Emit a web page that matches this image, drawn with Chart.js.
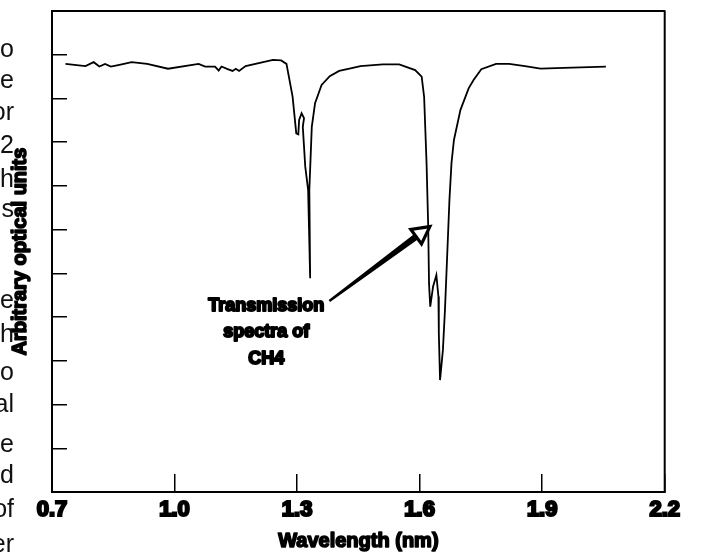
<!DOCTYPE html>
<html>
<head>
<meta charset="utf-8">
<script src="https://cdn.jsdelivr.net/npm/chart.js@4.4.1/dist/chart.umd.min.js"></script>
<style>
  html, body { margin: 0; padding: 0; background: #fff; }
  #wrap { width: 703px; height: 558px; }
</style>
</head>
<body>
<div id="wrap"><canvas id="spectrumChart" width="703" height="558"></canvas></div>
<script>
// Spektrum: panjang gelombang (x) dan sinyal (y, satuan bebas)
const wavelength = [
  0.733, 0.782, 0.802, 0.816, 0.830, 0.844, 0.865, 0.895, 0.933, 0.984,
  1.059, 1.075, 1.099, 1.108, 1.115, 1.130, 1.142, 1.150, 1.158, 1.174,
  1.241, 1.261, 1.274, 1.289, 1.298, 1.303, 1.305, 1.311, 1.317, 1.314,
  1.320, 1.327, 1.332, 1.330, 1.336, 1.344, 1.360, 1.380, 1.403, 1.431,
  1.455, 1.510, 1.550, 1.589, 1.605, 1.611, 1.617, 1.621, 1.623, 1.626,
  1.633, 1.641, 1.646, 1.647, 1.650, 1.657, 1.662, 1.668, 1.673, 1.678,
  1.684, 1.700, 1.720, 1.732, 1.751, 1.787, 1.819, 1.858, 1.896, 1.953,
  2.056
];
const signal = [
  9.79, 9.74, 9.83, 9.73, 9.79, 9.73, 9.77, 9.83, 9.79, 9.68,
  9.79, 9.73, 9.73, 9.64, 9.73, 9.67, 9.63, 9.68, 9.63, 9.74,
  9.88, 9.87, 9.79, 9.04, 8.20, 8.18, 8.51, 8.66, 8.55, 8.35,
  7.44, 6.91, 4.89, 6.91, 8.35, 8.89, 9.31, 9.51, 9.63, 9.69,
  9.74, 9.78, 9.78, 9.65, 9.50, 9.04, 7.52, 6.07, 4.77, 4.24,
  4.70, 4.96, 4.47, 3.63, 2.56, 3.25, 4.16, 5.53, 6.68, 7.52,
  8.05, 8.74, 9.23, 9.42, 9.67, 9.79, 9.79, 9.74, 9.68, 9.70,
  9.73
];

const xTicks = [0.7, 1.0, 1.3, 1.6, 1.9, 2.2];
const xTickLabels = ['0.7', '1.0', '1.3', '1.6', '1.9', '2.2'];
const xTitle = 'Wavelength (nm)';
const yTitle = 'Arbitrary optical units';

// catatan dan panah (dalam satuan data)
const noteLines = ['Transmission', 'spectra of', 'CH4'];
const noteAt = [1.2245, 4.14];
const arrowFrom = [1.379, 4.37];
const arrowTo = [1.625, 6.07];

// potongan teks dokumen di tepi kiri
const sideText = ['o', 'e', 'or', '2', 'h', 's', 'e', 'h', 'o', 'al', 'e', 'd', 'of', 'er'];
const sideTextY = [57, 88, 120, 153, 187, 217, 308, 342, 380, 412, 452, 483, 517, 552];

const FONT = '"Liberation Sans", Arial, Helvetica, sans-serif';

// teks tebal dengan garis tepi, supaya mirip huruf tebal di gambar asli
function heavyText(ctx, t, x, y, w) {
  ctx.lineWidth = w;
  ctx.strokeText(t, x, y);
  ctx.fillText(t, x, y);
}

const overlay = {
  id: 'overlay',
  afterDraw(chart) {
    const { ctx, chartArea: a, scales: { x, y } } = chart;
    ctx.save();
    ctx.strokeStyle = '#000';
    ctx.fillStyle = '#000';
    ctx.lineJoin = 'round';

    // sisi atas dan kanan bingkai
    ctx.lineWidth = 2;
    ctx.beginPath();
    ctx.moveTo(a.left, a.top);
    ctx.lineTo(a.right, a.top);
    ctx.lineTo(a.right, a.bottom);
    ctx.stroke();

    // judul sumbu
    ctx.font = 'bold 20px ' + FONT;
    ctx.textAlign = 'center';
    ctx.textBaseline = 'middle';
    heavyText(ctx, xTitle, (a.left + a.right) / 2, 541, 1.6);
    ctx.save();
    ctx.translate(20, (a.top + a.bottom) / 2);
    ctx.rotate(-Math.PI / 2);
    heavyText(ctx, yTitle, 0, 0, 1.6);
    ctx.restore();

    // teks catatan
    ctx.font = 'bold 18px ' + FONT;
    ctx.textBaseline = 'alphabetic';
    const nx = x.getPixelForValue(noteAt[0]);
    const ny = y.getPixelForValue(noteAt[1]);
    noteLines.forEach((t, i) => heavyText(ctx, t, nx, ny + i * 26.5, 2));

    // panah
    const x1 = x.getPixelForValue(arrowFrom[0]), y1 = y.getPixelForValue(arrowFrom[1]);
    const x2 = x.getPixelForValue(arrowTo[0]), y2 = y.getPixelForValue(arrowTo[1]);
    const ang = Math.atan2(y2 - y1, x2 - x1);
    const c = Math.cos(ang), s = Math.sin(ang);
    const head = 17, half = 9;
    const bx = x2 - head * c, by = y2 - head * s;
    ctx.beginPath();
    ctx.moveTo(x1 - 1.2 * s, y1 + 1.2 * c);
    ctx.lineTo(bx - 3.2 * s, by + 3.2 * c);
    ctx.lineTo(bx + 3.2 * s, by - 3.2 * c);
    ctx.lineTo(x1 + 1.2 * s, y1 - 1.2 * c);
    ctx.closePath();
    ctx.fill();
    ctx.beginPath();
    ctx.moveTo(x2, y2);
    ctx.lineTo(bx - half * s, by + half * c);
    ctx.lineTo(bx + half * s, by - half * c);
    ctx.closePath();
    ctx.fillStyle = '#fff';
    ctx.fill();
    ctx.lineWidth = 3.2;
    ctx.lineJoin = 'miter';
    ctx.stroke();

    // teks tepi kiri
    ctx.font = '25px ' + FONT;
    ctx.fillStyle = '#111';
    ctx.textAlign = 'right';
    sideText.forEach((t, i) => ctx.fillText(t, 14, sideTextY[i]));

    ctx.restore();
  }
};

const ctx = document.getElementById('spectrumChart').getContext('2d');
const spectrumChart = new Chart(ctx, {
  type: 'line',
  data: {
    datasets: [{
      label: 'CH4',
      data: wavelength.map((w, i) => ({ x: w, y: signal[i] })),
      borderColor: '#000',
      borderWidth: 1.8,
      pointRadius: 0,
      tension: 0,
      fill: false
    }]
  },
  options: {
    responsive: false,
    animation: false,
    layout: { padding: { top: 11, right: 19, left: 0, bottom: 0 } },
    plugins: {
      legend: { display: false },
      tooltip: { enabled: false }
    },
    scales: {
      x: {
        type: 'linear',
        min: 0.7,
        max: 2.2,
        afterBuildTicks: scale => { scale.ticks = xTicks.map(v => ({ value: v })); },
        afterFit: scale => { scale.height = 66; },
        ticks: {
          callback: (v, i) => xTickLabels[i],
          padding: 23,
          color: '#000',
          font: { family: FONT, size: 22, weight: 'bold' },
          textStrokeColor: '#000',
          textStrokeWidth: 2.2,
          maxRotation: 0
        },
        grid: { drawOnChartArea: false, drawTicks: true, tickLength: -18, color: '#000', lineWidth: 1.5 },
        border: { color: '#000', width: 2 },
        title: { display: false }
      },
      y: {
        min: 0,
        max: 11,
        afterFit: scale => { scale.width = 52; },
        ticks: { stepSize: 1, display: false },
        grid: { drawOnChartArea: false, drawTicks: true, tickLength: -15, color: '#000', lineWidth: 1.5 },
        border: { color: '#000', width: 2 },
        title: { display: false }
      }
    }
  },
  plugins: [overlay]
});
</script>
</body>
</html>
